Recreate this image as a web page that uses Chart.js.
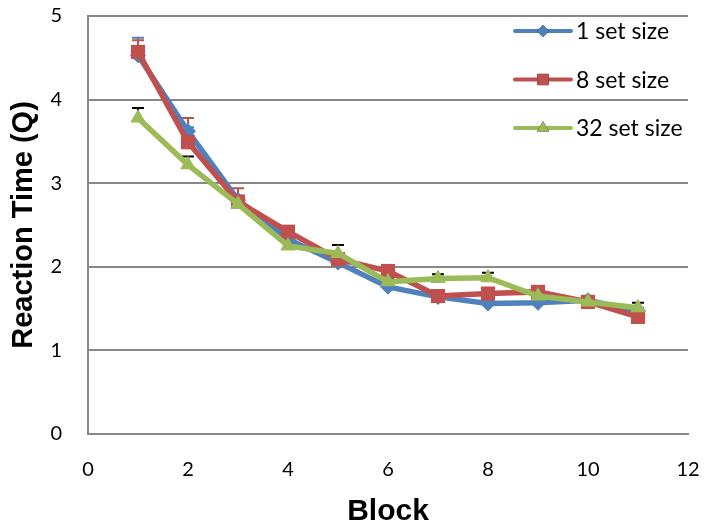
<!DOCTYPE html>
<html>
<head>
<meta charset="utf-8">
<script src="https://cdn.jsdelivr.net/npm/chart.js@4"></script>
<style>
  html, body { margin: 0; padding: 0; background: #fff; }
  #wrap { width: 705px; height: 527px; }
</style>
</head>
<body>
<div id="wrap"><canvas id="rt_chart" width="705" height="527"></canvas></div>
<script>
// datos
var blocks = [1, 2, 3, 4, 5, 6, 7, 8, 9, 10, 11];
var set1 = [4.53, 3.62, 2.80, 2.33, 2.05, 1.76, 1.64, 1.56, 1.57, 1.60, 1.47];
var set8 = [4.57, 3.49, 2.78, 2.42, 2.09, 1.95, 1.65, 1.68, 1.70, 1.58, 1.40];
var set32 = [3.78, 3.22, 2.75, 2.25, 2.16, 1.82, 1.86, 1.87, 1.65, 1.58, 1.51];
// error (solo la parte positiva se ve)
var err1 = [0.21, 0.05, 0.05, 0.04, 0.05, 0.04, 0.04, 0.04, 0.04, 0.04, 0.04];
var err8 = [0.14, 0.29, 0.16, 0.05, 0.05, 0.05, 0.05, 0.05, 0.05, 0.05, 0.05];
var err32 = [0.12, 0.10, 0.05, 0.05, 0.10, 0.05, 0.05, 0.06, 0.04, 0.04, 0.06];
var yTicks = [0, 1, 2, 3, 4, 5];
var xTicks = [0, 2, 4, 6, 8, 10, 12];

var colores = ["#4F81BD", "#C0504D", "#9BBB59"];
var erroresColor = ["#4F81BD", "#C0504D", "#000000"];
var nombres = ["1 set size", "8 set size", "32 set size"];
var marcadores = ["rectRot", "rect", "triangle"];
var radios = [8, 10, 9];

function puntos(vals) {
  return blocks.map(function (b, i) { return { x: b, y: vals[i] }; });
}

// barras de error
var errorBars = {
  id: "errorBars",
  beforeDatasetsDraw: function (chart) {
    var ctx = chart.ctx;
    var xs = chart.scales.x, ys = chart.scales.y;
    var series = [[set1, err1], [set8, err8], [set32, err32]];
    ctx.save();
    series.forEach(function (s, k) {
      ctx.strokeStyle = erroresColor[k];
      ctx.lineWidth = 2;
      blocks.forEach(function (b, i) {
        var px = xs.getPixelForValue(b);
        var y0 = ys.getPixelForValue(s[0][i]);
        var y1 = ys.getPixelForValue(s[0][i] + s[1][i]);
        ctx.beginPath();
        ctx.moveTo(px, y0);
        ctx.lineTo(px, y1);
        ctx.moveTo(px - 6, y1);
        ctx.lineTo(px + 6, y1);
        ctx.stroke();
      });
    });
    ctx.restore();
  }
};

// leyenda dentro del area del grafico
var leyenda = {
  id: "leyenda",
  afterDraw: function (chart) {
    var ctx = chart.ctx;
    var area = chart.chartArea;
    var x0 = area.right - 173;
    ctx.save();
    nombres.forEach(function (n, k) {
      var y = area.top + 15 + k * 48.5;
      ctx.strokeStyle = colores[k];
      ctx.lineWidth = 4;
      ctx.lineCap = "round";
      ctx.beginPath();
      ctx.moveTo(x0, y);
      ctx.lineTo(x0 + 56, y);
      ctx.stroke();
      Chart.helpers.drawPoint(ctx, {
        pointStyle: marcadores[k],
        radius: radios[k] - 2,
        borderWidth: 0
      }, x0 + 28, y);
      ctx.fillStyle = colores[k];
      ctx.fill();
      ctx.fillStyle = "#000";
      ctx.font = "23px Lato";
      ctx.textBaseline = "middle";
      ctx.fillText(n, x0 + 61, y + 1);
    });
    ctx.restore();
  }
};

var datasets = [set1, set8, set32].map(function (vals, k) {
  return {
    label: nombres[k],
    data: puntos(vals),
    borderColor: colores[k],
    backgroundColor: colores[k],
    borderWidth: 5.5,
    pointStyle: marcadores[k],
    pointRadius: radios[k],
    pointBorderWidth: 0,
    pointBackgroundColor: colores[k],
    tension: 0,
    order: 2 - k
  };
});

var ctx = document.getElementById("rt_chart").getContext("2d");
new Chart(ctx, {
  type: "line",
  data: { datasets: datasets },
  options: {
    responsive: false,
    animation: false,
    layout: { padding: { top: 16, right: 17, left: 0, bottom: 0 } },
    plugins: { legend: { display: false }, tooltip: { enabled: false } },
    scales: {
      x: {
        type: "linear",
        min: 0,
        max: 12,
        afterBuildTicks: function (s) { s.ticks = xTicks.map(function (v) { return { value: v }; }); },
        afterFit: function (s) { s.height = 93; s.paddingLeft = 0; s.paddingRight = 0; },
        grid: { display: false, drawTicks: false },
        border: { display: true, color: "#888", width: 2 },
        ticks: { color: "#000", padding: 24, font: { family: "Lato", size: 20 } },
        title: {
          display: true,
          text: "Block",
          color: "#000",
          padding: { top: 0, bottom: 0 },
          font: { family: "Liberation Sans", size: 30, weight: "bold", lineHeight: 1 }
        }
      },
      y: {
        min: 0,
        max: 5,
        afterBuildTicks: function (s) { s.ticks = yTicks.map(function (v) { return { value: v }; }); },
        afterFit: function (s) { s.width = 88; s.paddingTop = 0; s.paddingBottom = 0; },
        grid: { color: "#888", lineWidth: 2, drawTicks: false },
        border: { display: true, color: "#888", width: 2 },
        ticks: { color: "#000", padding: 26, font: { family: "Lato", size: 20 } },
        title: {
          display: true,
          text: "Reaction Time (Q)",
          color: "#000",
          padding: { top: 7, bottom: 0 },
          font: { family: "Liberation Sans", size: 29, weight: "bold" }
        }
      }
    }
  },
  plugins: [errorBars, leyenda]
});
</script>
</body>
</html>
